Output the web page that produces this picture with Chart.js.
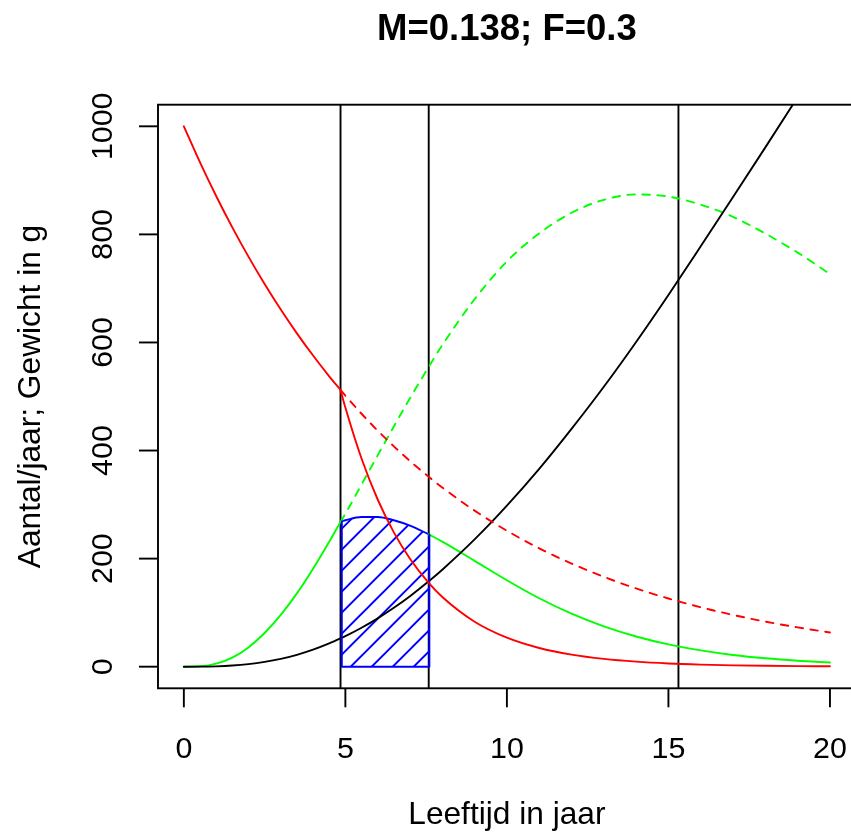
<!DOCTYPE html>
<html>
<head>
<meta charset="utf-8">
<script src="https://cdn.jsdelivr.net/npm/chart.js@4.4.1/dist/chart.umd.min.js"></script>
<style>
html,body{margin:0;padding:0;background:#fff;overflow:hidden}
#wrap{width:851px;height:838px;overflow:hidden;position:relative}
canvas{display:block}
</style>
</head>
<body>
<div id="wrap"><canvas id="c" width="870" height="838"></canvas></div>
<script>
// ---- data ----
const chartTitle = "M=0.138; F=0.3";
const xTitle = "Leeftijd in jaar";
const yTitle = "Aantal/jaar; Gewicht in g";
const xTicks = [0, 5, 10, 15, 20];
const yTicks = [0, 200, 400, 600, 800, 1000];

const ages = [0,0.5,1,1.5,2,2.5,3,3.5,4,4.5,4.85,5,5.5,6,6.5,7,7.58,8,9,10,11,12,13,14,15,16,17,18,19,20];
const numberFished = [1000,933.3,871.1,813.0,758.8,708.2,661.0,616.9,575.8,537.4,512.1,479.5,385.2,309.4,248.6,199.7,154.9,128.9,83.2,53.7,34.6,22.3,14.4,9.3,6.0,3.9,2.5,1.6,1.0,0.7];
const weight = [0,0.08,0.64,2.07,4.7,8.8,14.5,22,31.5,43,52.2,56.4,72,89.5,109,130.5,158,179.5,235.5,298,366,440,518,601,688,778,869,961,1054,1148];
const biomassFished = [0,0.75,5.6,16.8,35.7,62.3,95.8,135.7,181.4,231.1,268,271,277,277,271,261,245,231.4,195.9,160,126.6,98.1,74.6,55.9,41.3,30.2,21.7,15.5,11.0,7.7];

const agesAfter = [4.85,5,5.5,6,6.5,7,7.58,8,9,10,11,12,13,14,15,16,17,18,19,20];
const numberUnfished = [512.1,501.6,468.1,436.9,407.8,380.6,351.3,331.5,288.8,251.6,219.1,190.9,166.3,144.8,126.2,109.9,95.8,83.4,72.7,63.3];
const biomassUnfished = [268,283,337,391,444.5,496.7,555,595,680,750,802,840,864,874,870,855,832.5,801.5,766.3,726.7];

const hatchAges = [4.89,5,5.5,6,6.5,7,7.6];
const hatchValues = [269,271,277,277,271,261,244.5];

const vlineAges = [4.85, 7.58, 15.31];

// ---- helpers ----
const pts = (xs, ys) => xs.map((x, i) => ({x: x, y: ys[i]}));
const FONT = '"Liberation Sans", Arial, Helvetica, sans-serif';
const LW = 1.9;
const KINK = 10; // index of age 4.85 in ages

function hatchPattern() {
  const s = 21, c = document.createElement('canvas');
  c.width = s; c.height = s;
  const g = c.getContext('2d');
  g.strokeStyle = '#0000ff'; g.lineWidth = LW;
  for (const k of [-2,-1,0,1,2]) {
    const cc = 9.4 + s * k;
    g.beginPath(); g.moveTo(cc + 40, -40); g.lineTo(cc - 40, 40); g.stroke();
  }
  return document.getElementById('c').getContext('2d').createPattern(c, 'repeat');
}

const datasets = [];
vlineAges.forEach(a => datasets.push({
  data: [{x: a, y: -40}, {x: a, y: 1040}], borderColor: '#000', borderWidth: LW,
  cubicInterpolationMode: 'default', tension: 0, order: 10
}));
datasets.push({ // hatched area under fished biomass between the two first lines
  data: pts(hatchAges, hatchValues), borderColor: '#0000ff', borderWidth: LW,
  backgroundColor: hatchPattern(), fill: 'origin', order: 9
});
datasets.push({
  data: [{x: hatchAges[0], y: hatchValues[0]}, {x: hatchAges[0], y: 0},
         {x: hatchAges[hatchAges.length-1], y: 0}, {x: hatchAges[hatchAges.length-1], y: hatchValues[hatchValues.length-1]}],
  borderColor: '#0000ff', borderWidth: LW, cubicInterpolationMode: 'default', tension: 0, order: 3
});
datasets.push({data: pts(agesAfter, biomassUnfished), borderColor: '#00ff00', borderWidth: LW, borderDash: [7.5, 7.5], order: 8});
datasets.push({data: pts(ages.slice(0, KINK + 1), biomassFished.slice(0, KINK + 1)), borderColor: '#00ff00', borderWidth: LW, order: 7});
datasets.push({data: pts(ages.slice(16), biomassFished.slice(16)), borderColor: '#00ff00', borderWidth: LW, order: 7});
datasets.push({data: pts(ages, weight), borderColor: '#000000', borderWidth: LW, order: 6});
datasets.push({data: pts(agesAfter, numberUnfished), borderColor: '#ff0000', borderWidth: LW, borderDash: [7.5, 7.5], order: 2});
datasets.push({data: pts(ages.slice(0, KINK + 1), numberFished.slice(0, KINK + 1)), borderColor: '#ff0000', borderWidth: LW, order: 1});
datasets.push({data: pts(ages.slice(KINK), numberFished.slice(KINK)), borderColor: '#ff0000', borderWidth: LW, order: 1});

const rAxes = {
  id: 'rAxes',
  afterDraw(chart) {
    const {ctx, chartArea: a, scales: {x, y}} = chart;
    ctx.save();
    ctx.strokeStyle = '#000'; ctx.fillStyle = '#000'; ctx.lineWidth = LW; ctx.lineCap = 'butt';
    ctx.strokeRect(a.left, a.top, a.right - a.left, a.bottom - a.top);
    ctx.font = '30.4px ' + FONT;
    ctx.textAlign = 'center'; ctx.textBaseline = 'alphabetic';
    xTicks.forEach(v => {
      const px = x.getPixelForValue(v);
      ctx.beginPath(); ctx.moveTo(px, a.bottom); ctx.lineTo(px, a.bottom + 19); ctx.stroke();
      ctx.fillText(String(v), px, a.bottom + 69.8);
    });
    yTicks.forEach(v => {
      const py = y.getPixelForValue(v);
      ctx.beginPath(); ctx.moveTo(a.left, py); ctx.lineTo(a.left - 19, py); ctx.stroke();
      ctx.save(); ctx.translate(a.left - 46.3, py); ctx.rotate(-Math.PI / 2);
      ctx.fillText(String(v), 0, 0); ctx.restore();
    });
    ctx.font = '31.7px ' + FONT;
    const cx = x.getPixelForValue(10);
    ctx.fillText(xTitle, cx, a.bottom + 135.5);
    const cy = (a.top + a.bottom) / 2;
    ctx.save(); ctx.translate(39.5, cy); ctx.rotate(-Math.PI / 2);
    ctx.fillText(yTitle, 0, 0); ctx.restore();
    ctx.restore();
  }
};

new Chart(document.getElementById('c'), {
  type: 'line',
  data: {datasets: datasets},
  options: {
    responsive: false, animation: false, devicePixelRatio: 1,
    layout: {padding: {left: 158, right: 14.2, top: 0, bottom: 149.7}},
    elements: {
      point: {radius: 0, hoverRadius: 0},
      line: {cubicInterpolationMode: 'monotone', borderCapStyle: 'round', borderJoinStyle: 'round', fill: false}
    },
    scales: {
      x: {type: 'linear', min: -0.8, max: 20.8, display: false},
      y: {type: 'linear', min: -40, max: 1040, display: false}
    },
    plugins: {
      legend: {display: false},
      tooltip: {enabled: false},
      title: {display: true, text: chartTitle, fullSize: false, color: '#000',
        font: {family: FONT, size: 36.5, weight: 'bold', lineHeight: 1.2},
        padding: {top: 8.1, bottom: 52.8}}
    }
  },
  plugins: [rAxes]
});
</script>
</body>
</html>
